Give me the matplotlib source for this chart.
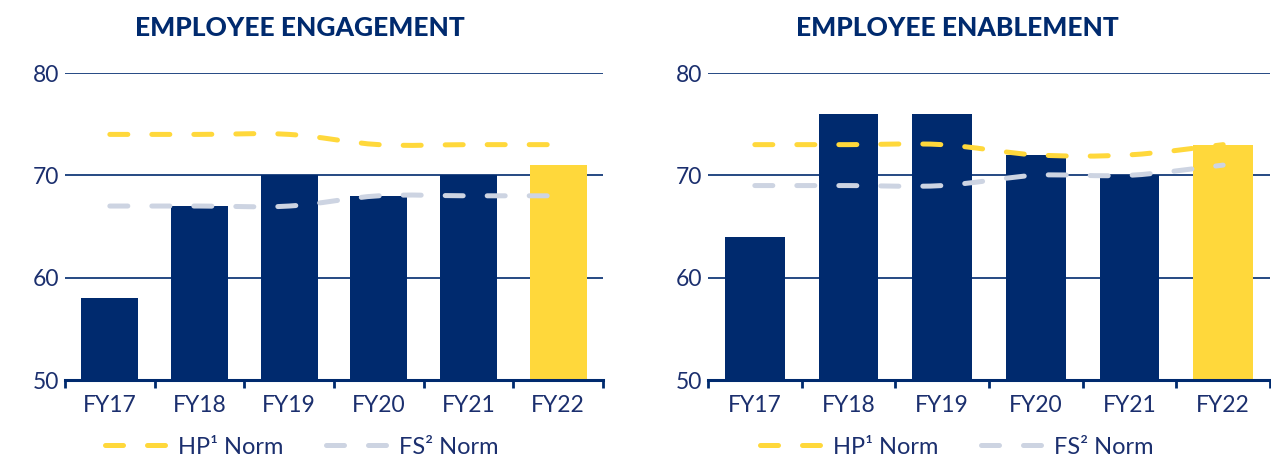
import matplotlib
matplotlib.use("Agg")
import matplotlib.pyplot as plt
from matplotlib.path import Path
from matplotlib.patches import PathPatch
from matplotlib.lines import Line2D
import numpy as np

categories = ["FY17", "FY18", "FY19", "FY20", "FY21", "FY22"]

engagement_title = "EMPLOYEE ENGAGEMENT"
engagement_values = [58, 67, 70, 68, 70, 71]
engagement_hp_norm = [74, 74, 74, 73, 73, 73]
engagement_fs_norm = [67, 67, 67, 68, 68, 68]

enablement_title = "EMPLOYEE ENABLEMENT"
enablement_values = [64, 76, 76, 72, 70, 73]
enablement_hp_norm = [73, 73, 73, 72, 72, 73]
enablement_fs_norm = [69, 69, 69, 70, 70, 71]

y_ticks = [50, 60, 70, 80]
legend_labels = ["HP¹ Norm", "FS² Norm"]

NAVY = "#002A6E"
YELLOW = "#FFD83B"
GREY = "#CDD4E2"
TEXT = "#1B2F6E"

plt.rcParams['font.family'] = ['Lato', 'DejaVu Sans']

fig = plt.figure(figsize=(12.71, 4.59), dpi=100)

LW = 3.6
DASH = (0, (3.6, 4.8))


def smooth_path(xs, ys):
    # Catmull-Rom spline as cubic Bezier segments, in data coordinates
    pts = np.column_stack([xs, ys]).astype(float)
    n = len(pts)
    verts = [pts[0]]
    codes = [Path.MOVETO]
    for i in range(n - 1):
        p0 = pts[i - 1] if i > 0 else pts[i]
        p1 = pts[i]
        p2 = pts[i + 1]
        p3 = pts[i + 2] if i + 2 < n else pts[i + 1]
        c1 = p1 + (p2 - p0) / 6.0
        c2 = p2 - (p3 - p1) / 6.0
        verts += [c1, c2, p2]
        codes += [Path.CURVE4] * 3
    return Path(verts, codes)


def draw_panel(rect, title, values, hp, fs, title_x, legend_x):
    ax = fig.add_axes(rect)
    x = np.arange(len(categories))
    colors = [NAVY] * (len(values) - 1) + [YELLOW]
    ax.bar(x, [v - 50 for v in values], bottom=50, width=0.635, color=colors, zorder=2)
    ax.set_xlim(-0.5, len(categories) - 0.5)
    ax.set_ylim(50, 80)
    ax.set_yticks(y_ticks)
    ax.set_yticklabels([str(t) for t in y_ticks])
    ax.yaxis.grid(True, color=NAVY, linewidth=1.2, zorder=0)
    ax.set_axisbelow(True)
    for s in ["top", "right", "left"]:
        ax.spines[s].set_visible(False)
    ax.spines["bottom"].set_color(NAVY)
    ax.spines["bottom"].set_linewidth(2.2)
    ax.spines["bottom"].set_zorder(4)
    ax.set_xticks(np.arange(-0.5, len(categories), 1.0))
    ax.set_xticklabels([])
    ax.set_xticks(x, minor=True)
    ax.set_xticklabels(categories, minor=True)
    ax.tick_params(axis="x", which="major", length=6, width=2, color=NAVY, direction="out")
    ax.tick_params(axis="x", which="minor", length=0, pad=11, labelsize=16.5, labelcolor=TEXT)
    ax.tick_params(axis="y", length=0, pad=4, labelsize=16.5, labelcolor=TEXT)

    for series, col in ((fs, GREY), (hp, YELLOW)):
        patch = PathPatch(smooth_path(x, series), facecolor="none", edgecolor=col,
                          linewidth=LW, linestyle=DASH, capstyle="round", zorder=3)
        ax.add_patch(patch)

    fig.text(title_x, 0.94, title, ha="center", va="center", fontsize=19,
             fontweight="black", color=NAVY)

    handles = [Line2D([], [], color=YELLOW, linewidth=LW, linestyle=DASH,
                      dash_capstyle="round"),
               Line2D([], [], color=GREY, linewidth=LW, linestyle=DASH,
                      dash_capstyle="round")]
    fig.legend(handles, legend_labels, loc="center", bbox_to_anchor=(legend_x, 0.026),
               ncol=2, frameon=False, fontsize=17, handlelength=2.55,
               columnspacing=1.8, handletextpad=0.55, labelcolor=TEXT,
               borderpad=0, borderaxespad=0)
    return ax


ax1 = draw_panel([65 / 1271, 1 - 380 / 459, (603 - 65) / 1271, (380 - 73) / 459],
                 engagement_title, engagement_values, engagement_hp_norm, engagement_fs_norm,
                 300 / 1271, 302 / 1271)
ax2 = draw_panel([708 / 1271, 1 - 380 / 459, (1270 - 708) / 1271, (380 - 73) / 459],
                 enablement_title, enablement_values, enablement_hp_norm, enablement_fs_norm,
                 957 / 1271, 957 / 1271)

fig.savefig("out.png", dpi=100, facecolor="white")
